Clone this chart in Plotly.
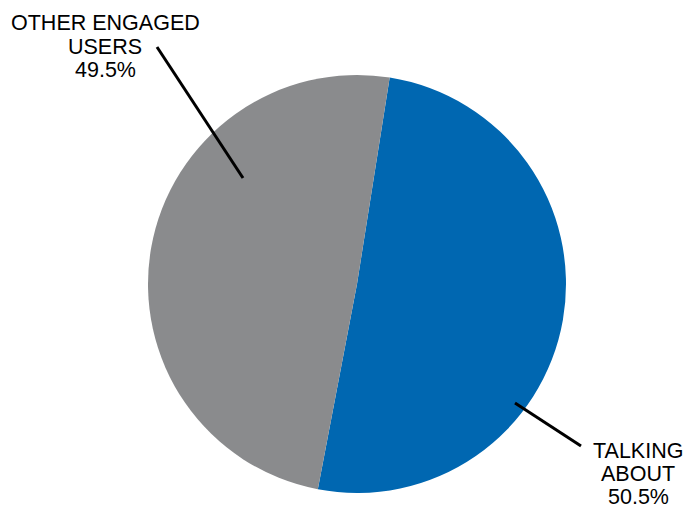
import plotly.graph_objects as go

W, H = 691, 508

categories = ["TALKING ABOUT", "OTHER ENGAGED USERS"]
values = [50.5, 49.5]
label_lines = [["TALKING", "ABOUT"], ["OTHER ENGAGED", "USERS"]]
colors = ["#0067b1", "#8a8b8d"]

def px(x):
    return x / W

def py(y):
    return 1 - y / H

cx, cy, r = 357, 284, 209

fig = go.Figure(go.Pie(
    labels=categories,
    values=values,
    marker=dict(colors=colors, line=dict(width=0)),
    sort=False,
    direction="clockwise",
    rotation=9,
    textinfo="none",
    showlegend=False,
    domain=dict(x=[px(cx - r), px(cx + r)], y=[py(cy + r), py(cy - r)]),
))

# label blocks: (center x px, first line cap-center y px, line step px)
blocks = [(638, 451, 23), (105, 23, 23.5)]
font = dict(family="Liberation Sans, Arial, sans-serif", size=21.5, color="black")
for i, (bx, by, step) in enumerate(blocks):
    lines = label_lines[i] + [f"{values[i]}%"]
    for j, t in enumerate(lines):
        fig.add_annotation(x=px(bx), y=py(by + j * step), xref="paper", yref="paper",
                           text=t, showarrow=False, xanchor="center", yanchor="middle",
                           font=font)

leaders = [((515, 403), (581, 446)), ((243, 178), (157, 47))]
for (x0, y0), (x1, y1) in leaders:
    fig.add_shape(type="line", xref="paper", yref="paper",
                  x0=px(x0), y0=py(y0), x1=px(x1), y1=py(y1),
                  line=dict(color="black", width=3))

fig.update_layout(width=W, height=H, margin=dict(l=0, r=0, t=0, b=0),
                  paper_bgcolor="white", plot_bgcolor="white")
fig.write_html("out.html", config={"displayModeBar": False},
               post_script="document.body.style.margin='0';document.body.style.overflow='hidden';")
